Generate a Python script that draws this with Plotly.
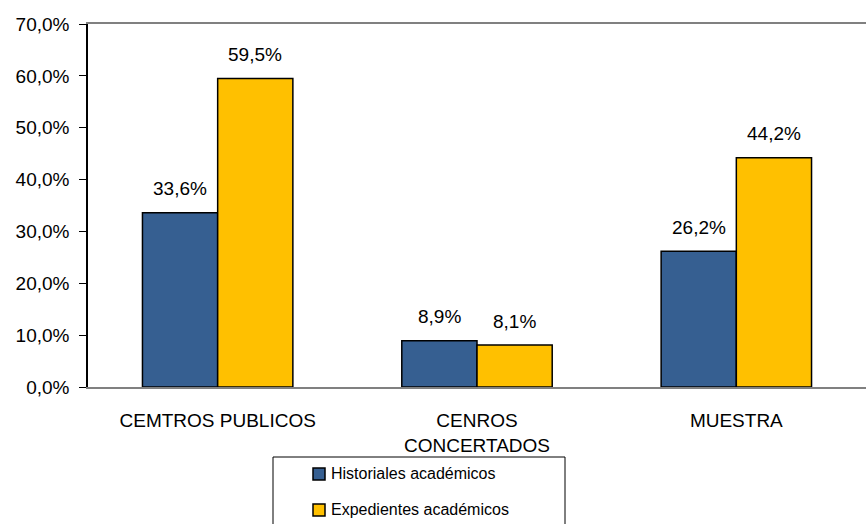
import plotly.graph_objects as go

categories = ["CEMTROS PUBLICOS", "CENROS<br>CONCERTADOS", "MUESTRA"]
series_names = ["Historiales académicos", "Expedientes académicos"]
historiales = [33.6, 8.9, 26.2]
expedientes = [59.5, 8.1, 44.2]
y_ticks = [0, 10, 20, 30, 40, 50, 60, 70]

colors = ["#365F91", "#FFC000"]
FONT = "Liberation Sans, Arial, sans-serif"

L, R, T, B = 88, 0, 24, 137
W, H = 866, 524
pw, ph = W - L - R, H - T - B

xs = list(range(len(categories)))
bw = 0.29

fig = go.Figure()
for name, vals, col, off in [(series_names[0], historiales, colors[0], -bw),
                             (series_names[1], expedientes, colors[1], 0.0)]:
    fig.add_trace(go.Bar(
        x=xs, y=vals, name=name, width=[bw] * len(xs), offset=[off] * len(xs),
        marker=dict(color=col, line=dict(color="#000000", width=1.5)),
        showlegend=False,
    ))
    for xi, v in zip(xs, vals):
        fig.add_annotation(
            x=xi + off + bw / 2, y=v, xref="x", yref="y",
            text=f"{v:.1f}%".replace(".", ","), showarrow=False,
            yanchor="middle", yshift=24,
            font=dict(family=FONT, size=19, color="#000000"),
        )

# manual legend
def px_x(p):
    return (p - L) / pw

def px_y(p):
    return (H - B - p) / ph

fig.add_shape(type="rect", xref="paper", yref="paper",
              x0=px_x(273), x1=px_x(565), y0=px_y(457), y1=px_y(540),
              line=dict(color="#000000", width=1), fillcolor="white", layer="above")
for i, (name, col) in enumerate(zip(series_names, colors)):
    cy = 474 + i * 36
    fig.add_shape(type="rect", xref="paper", yref="paper",
                  x0=px_x(313), x1=px_x(325), y0=px_y(cy - 6), y1=px_y(cy + 6),
                  line=dict(color="#000000", width=1.5), fillcolor=col, layer="above")
    fig.add_annotation(x=px_x(329), y=px_y(cy - 1), xref="paper", yref="paper",
                       xanchor="left", yanchor="middle", showarrow=False,
                       text=name, font=dict(family=FONT, size=16, color="#000000"))

fig.update_layout(
    width=W, height=H,
    margin=dict(l=L, r=R, t=T, b=B, pad=0),
    paper_bgcolor="white", plot_bgcolor="white",
    separators=",.",
    barmode="overlay",
    font=dict(family=FONT, size=19, color="#000000"),
    xaxis=dict(
        range=[-0.5, 2.5], tickmode="array", tickvals=xs, ticktext=categories,
        showgrid=False, zeroline=False, showline=True, linecolor="#808080",
        linewidth=2, mirror=True, ticks="", ticklabelstandoff=15,
        tickfont=dict(family=FONT, size=19, color="#000000"),
    ),
    yaxis=dict(
        range=[0, 70], tickmode="array", tickvals=y_ticks,
        ticktext=[f"{v:.1f}%".replace(".", ",") for v in y_ticks],
        showgrid=False, zeroline=False, showline=True, linecolor="#000000",
        linewidth=1.5, ticks="outside", ticklen=7, tickcolor="#000000",
        tickwidth=1, ticklabelstandoff=6,
        tickfont=dict(family=FONT, size=19, color="#000000"),
    ),
)

fig.write_html("out.html", config={"displayModeBar": False},
               post_script="document.body.style.margin='0';document.body.style.overflow='hidden';")
